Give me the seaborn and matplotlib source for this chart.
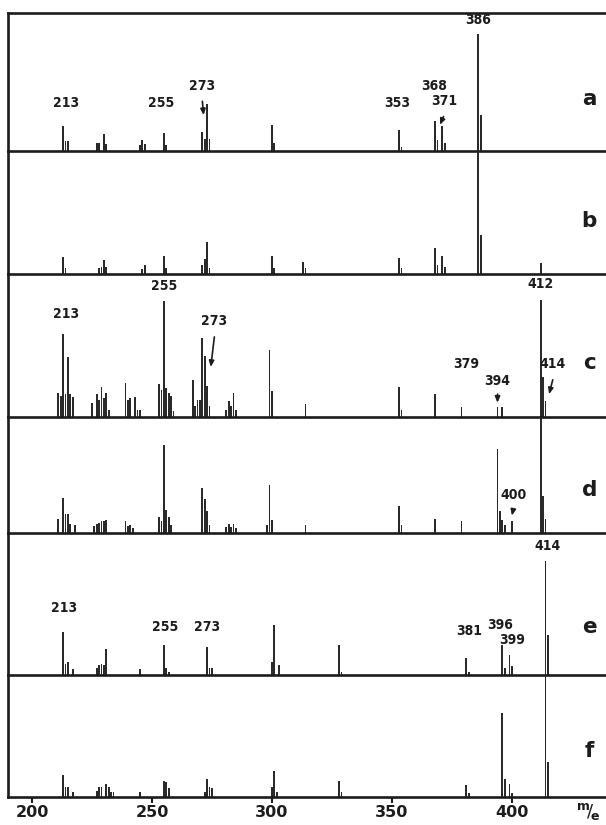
import matplotlib
matplotlib.use("Agg")
import matplotlib.pyplot as plt
import numpy as np
import pandas as pd
import seaborn as sns

# m/e values and relative intensities (% of panel height) for each spectrum
a_mz = [213, 214, 215, 227, 228, 230, 231, 245, 246, 247, 255, 256, 271, 272, 273, 274,
        300, 301, 353, 354, 368, 369, 371, 372, 386, 387]
a_int = [18, 7, 7, 6, 6, 12, 5, 4, 8, 5, 13, 4, 14, 9, 34, 9,
         19, 6, 15, 3, 22, 8, 18, 6, 85, 26]

b_mz = [213, 214, 228, 229, 230, 231, 246, 247, 255, 256, 271, 272, 273, 274,
        300, 301, 313, 314, 353, 354, 368, 369, 371, 372, 386, 387, 412]
b_int = [14, 5, 5, 6, 11, 6, 4, 7, 15, 5, 7, 12, 26, 5,
         15, 5, 10, 5, 13, 5, 21, 7, 15, 6, 100, 32, 9]

c_mz = [211, 212, 213, 214, 215, 216, 217, 225, 227, 228, 229, 230, 231, 232,
        239, 240, 241, 243, 244, 245, 253, 254, 255, 256, 257, 258, 259,
        267, 268, 269, 270, 271, 272, 273, 274, 281, 282, 283, 284, 285,
        299, 300, 314, 353, 354, 368, 379, 394, 396, 412, 413, 414]
c_int = [17, 15, 58, 16, 42, 16, 14, 10, 16, 12, 21, 13, 17, 5,
         24, 12, 13, 14, 5, 5, 23, 19, 81, 20, 17, 15, 4,
         26, 8, 12, 12, 55, 43, 22, 8, 5, 11, 8, 17, 5,
         47, 18, 9, 21, 5, 16, 7, 7, 7, 82, 28, 11]

d_mz = [211, 213, 214, 215, 216, 218, 226, 227, 228, 229, 230, 231,
        239, 240, 241, 242, 253, 254, 255, 256, 257, 258, 271, 272, 273, 274,
        281, 282, 283, 284, 285, 298, 299, 300, 314, 353, 354, 368, 379,
        394, 395, 396, 397, 400, 412, 413, 414]
d_int = [12, 30, 16, 16, 8, 7, 6, 8, 9, 10, 10, 11,
         10, 6, 7, 4, 14, 10, 76, 20, 14, 7, 39, 29, 19, 7,
         5, 8, 5, 8, 4, 7, 41, 11, 7, 23, 7, 12, 10,
         72, 19, 11, 7, 10, 100, 32, 12]

e_mz = [213, 214, 215, 217, 227, 228, 229, 230, 231, 245, 255, 256, 257,
        273, 274, 275, 300, 301, 303, 328, 329, 381, 382, 396, 397, 399, 400, 414, 415]
e_int = [30, 8, 9, 4, 5, 7, 8, 7, 18, 4, 21, 5, 2,
         20, 5, 5, 9, 35, 7, 21, 2, 12, 2, 21, 5, 14, 6, 80, 28]

f_mz = [213, 214, 215, 217, 227, 228, 229, 231, 232, 233, 234, 245, 255, 256, 257,
        272, 273, 274, 275, 300, 301, 302, 328, 329, 381, 382, 396, 397, 399, 400, 414, 415]
f_int = [18, 8, 8, 4, 5, 8, 8, 11, 8, 4, 4, 4, 13, 12, 7,
         4, 15, 8, 7, 8, 21, 4, 13, 4, 10, 3, 69, 15, 11, 3, 100, 29]

panel_letters = ["a", "b", "c", "d", "e", "f"]
letter_heights = [0.38, 0.43, 0.38, 0.37, 0.34, 0.38]

# peak labels: (text, m/e, height %)
a_labels = [("213", 214, 30), ("255", 254, 30), ("273", 271, 42), ("353", 352, 30),
            ("368", 367.5, 42), ("371", 372, 31), ("386", 386, 90)]
c_labels = [("213", 214, 67), ("255", 255, 87), ("273", 276, 62), ("379", 381, 32),
            ("394", 394, 20), ("412", 412, 88), ("414", 417, 32)]
d_labels = [("400", 400.5, 27)]
e_labels = [("213", 213.5, 42), ("255", 255.5, 29), ("273", 273, 29), ("381", 382, 26),
            ("396", 395, 30), ("399", 400, 20), ("414", 415, 86)]

# small arrows: (tail m/e, tail %, head m/e, head %)
a_arrows = [(271, 36, 271.5, 26), (371.5, 25, 370, 19)]
c_arrows = [(276, 56, 274.5, 35), (394, 16, 394, 10), (417, 26, 415.5, 16)]
d_arrows = [(400.5, 20, 400, 15)]

xticks = [200, 250, 300, 350, 400]

spectra = [(a_mz, a_int, a_labels, a_arrows),
           (b_mz, b_int, [], []),
           (c_mz, c_int, c_labels, c_arrows),
           (d_mz, d_int, d_labels, d_arrows),
           (e_mz, e_int, e_labels, []),
           (f_mz, f_int, [], [])]

# panel edges in pixels from the top of the image
edges = [13, 151, 274, 417, 533, 675, 797]

W, H = 606, 825
sns.set_style("white")
plt.rcParams["font.family"] = ["DejaVu Sans"]

fig = plt.figure(figsize=(W / 100, H / 100), dpi=100)
left = 8 / W
lw = 1.9
ink = "#1c1c1c"
lab_font = dict(family="DejaVu Sans", fontweight="bold", fontsize=10,
                fontstretch="condensed")

for i, (mz, inten, labels, arrows) in enumerate(spectra):
    top, base = edges[i], edges[i + 1]
    ax = fig.add_axes([left, 1 - base / H, 1 - left, (base - top) / H])
    df = pd.DataFrame({"mz": mz, "intensity": inten})
    sns.histplot(data=df, x="mz", weights="intensity", discrete=True, shrink=0.75,
                 color="#2a2a2a", edgecolor="none", linewidth=0, alpha=1, ax=ax)
    ax.set_xlim(190, 439.2)
    ax.set_ylim(0, 100)
    ax.set_xlabel("")
    ax.set_ylabel("")
    ax.set_yticks([])
    for side in ["left", "bottom", "top", "right"]:
        ax.spines[side].set_linewidth(lw)
        ax.spines[side].set_color(ink)
    ax.spines["right"].set_visible(False)
    ax.spines["top"].set_visible(i == 0)
    ax.patch.set_alpha(0)

    for txt, x, y in labels:
        ax.text(x, y, txt, ha="center", va="bottom", color=ink, **lab_font)
    for x0, y0, x1, y1 in arrows:
        ax.annotate("", xy=(x1, y1), xytext=(x0, y0),
                    arrowprops=dict(arrowstyle="-|>,head_length=0.35,head_width=0.15",
                                    lw=1.2, color=ink, shrinkA=0, shrinkB=0))
    ax.text(0.972, letter_heights[i], panel_letters[i], transform=ax.transAxes,
            ha="center", va="center", fontsize=15.5, fontweight="bold", color=ink)

    if i == len(spectra) - 1:
        ax.set_xticks(xticks)
        ax.set_xticklabels([str(t) for t in xticks], fontsize=11.5, fontweight="bold")
        ax.tick_params(axis="x", direction="out", length=4, width=1.5, pad=2,
                       bottom=True, colors=ink)
        ax.text(0.99, -0.12, r"$^{\mathbf{m}}\!/\!_{\mathbf{e}}$", transform=ax.transAxes,
                ha="right", va="center", fontsize=13, color=ink)
    else:
        ax.set_xticks([])

fig.savefig("out.png", dpi=100, facecolor="white")
